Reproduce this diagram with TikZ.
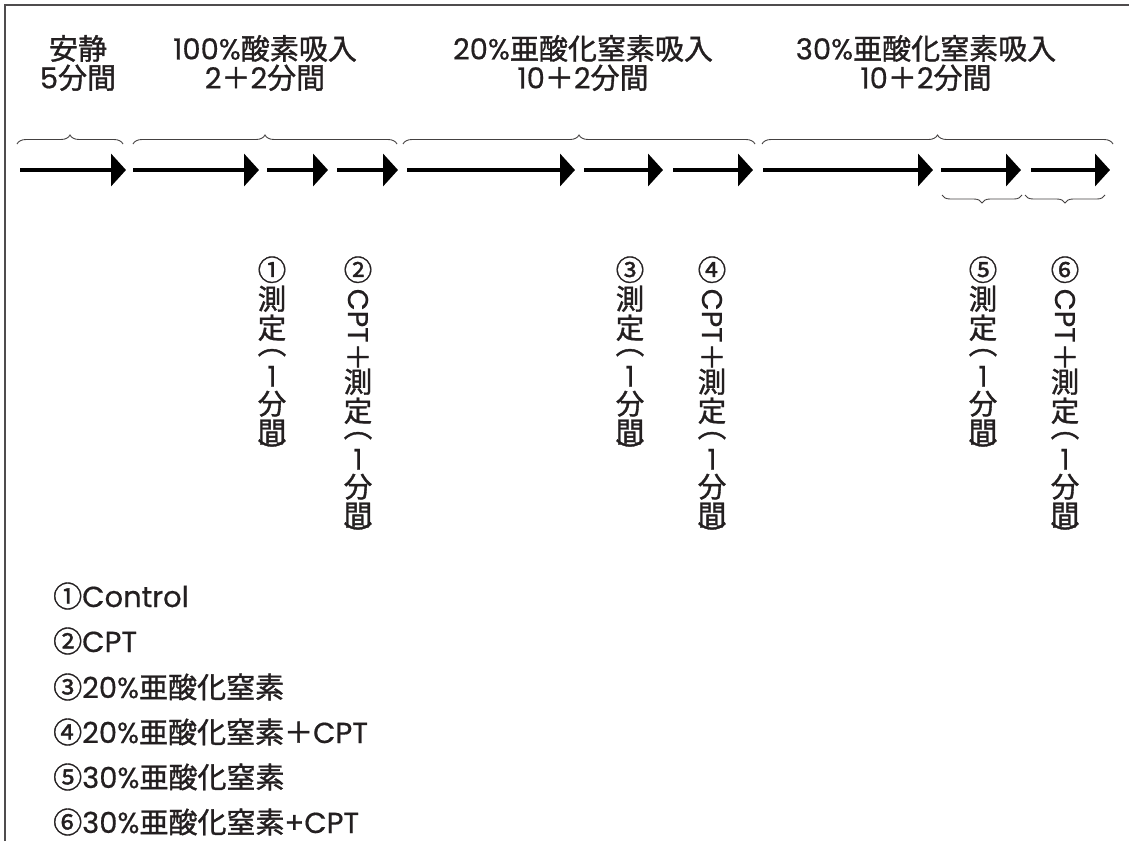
\documentclass[tikz,border=0pt]{standalone}
\usepackage{fontspec}
\usepackage{graphicx}
\setmainfont{Noto Sans CJK JP}[FakeBold=1.2]
\newfontfamily\latf{Poppins}[FakeBold=0.5]
\newcommand\lat[1]{{\latf #1}}
\usetikzlibrary{arrows.meta,decorations.pathreplacing}
\newcommand\vcell[2]{\hbox to 34pt{\hss\vbox to #1{\vss\hbox{#2}\vss}\hss}}
\newcommand\rotg[1]{\rotatebox[origin=c]{-90}{#1}}
\newcommand\vmeas[1]{\vbox{\offinterlineskip
  \vcell{29pt}{#1}\vcell{29pt}{測}\vcell{29pt}{定}\vcell{21pt}{︵}%
  \vcell{26pt}{\lat{1}}\vcell{29pt}{分}\vcell{28pt}{間}\vcell{10pt}{︶}}}
\newcommand\vcpt[1]{\vbox{\offinterlineskip
  \vcell{29pt}{#1}\vcell{63pt}{\rotg{\lat{CPT}}}\vcell{20pt}{＋}%
  \vcell{29pt}{測}\vcell{29pt}{定}\vcell{21pt}{︵}%
  \vcell{26pt}{\lat{1}}\vcell{29pt}{分}\vcell{28pt}{間}\vcell{10pt}{︶}}}
\definecolor{ink}{HTML}{231F20}
\tikzset{
  txt/.style={font=\fontsize{29}{29}\selectfont, text=ink, inner sep=0pt},
  head/.style={txt, align=center},
  leg/.style={txt, anchor=west},
  vlab/.style={txt, font=\fontsize{28.5}{29}\selectfont, anchor=north},
  timearrow/.style={line width=4pt, -{Triangle[length=15pt,width=32pt]}, black},
  bracetop/.style={draw=ink!85, line width=0.9pt, decorate, decoration={brace, amplitude=9pt}},
  bracebot/.style={draw=ink!85, line width=0.9pt, decorate, decoration={brace, mirror, amplitude=8pt}},
  frame/.style={draw=ink!80, line width=1.5pt}
}
\begin{document}
\begin{tikzpicture}[x=1pt,y=-1pt]
\useasboundingbox (0,0) rectangle (1129,841);
\draw[frame] (5,841) -- (5,5) -- (1129,5);

% headers
\node[head] (h1) at (78,63) {安静\\\lat{5}分間};
\node[head] (h2) at (265,63) {\lat{100\%}酸素吸入\\\lat{2}＋\lat{2}分間};
\node[head] (h3) at (583,63) {\lat{20\%}亜酸化窒素吸入\\\lat{10}＋\lat{2}分間};
\node[head] (h4) at (926,63) {\lat{30\%}亜酸化窒素吸入\\\lat{10}＋\lat{2}分間};

% braces
\draw[bracetop] (17,144) -- (123,144);
\draw[bracetop] (133,144) -- (397,144);
\draw[bracetop] (403,144) -- (755,144);
\draw[bracetop] (762,144) -- (1113,144);
\draw[bracebot] (942,195) -- (1022,195);
\draw[bracebot] (1025,195) -- (1105,195);

% arrows
\foreach \i/\a/\b in {1/20/126, 2/133/259, 3/267/328, 4/337/398, 5/407/575,
                      6/584/663, 7/673/753, 8/763/933, 9/941/1021, 10/1031/1110}{
  \coordinate (s\i) at (\a,170);
  \coordinate (e\i) at (\b,170);
  \draw[timearrow] (s\i) -- (e\i);
}

% vertical labels
\node[vlab] (v1) at (272,255) {\vmeas{①}};
\node[vlab] (v2) at (358,255) {\vcpt{②}};
\node[vlab] (v3) at (630,255) {\vmeas{③}};
\node[vlab] (v4) at (712,255) {\vcpt{④}};
\node[vlab] (v5) at (983,255) {\vmeas{⑤}};
\node[vlab] (v6) at (1065,255) {\vcpt{⑥}};

% legend
\node[leg] (l1) at (53,596) {①\lat{Control}};
\node[leg] (l2) at (53,641) {②\lat{CPT}};
\node[leg] (l3) at (53,687) {③\lat{20\%}亜酸化窒素};
\node[leg] (l4) at (53,732) {④\lat{20\%}亜酸化窒素＋\lat{CPT}};
\node[leg] (l5) at (53,777) {⑤\lat{30\%}亜酸化窒素};
\node[leg] (l6) at (53,822) {⑥\lat{30\%}亜酸化窒素\lat{+CPT}};
\end{tikzpicture}
\end{document}
